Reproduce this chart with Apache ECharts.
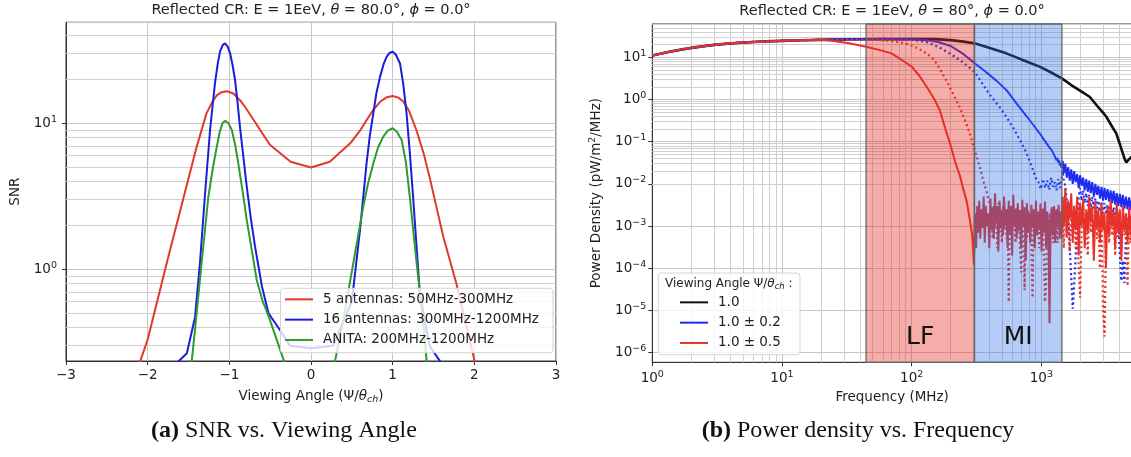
<!DOCTYPE html>
<html>
<head>
<meta charset="utf-8">
<script src="https://cdn.jsdelivr.net/npm/echarts@6.0.0/dist/echarts.min.js"></script>
<style>
html,body{margin:0;padding:0;background:#fff;overflow:hidden;}
#chart{width:1140px;height:457px;}
</style>
</head>
<body>
<div id="chart"></div>
<script>
// ================= Panel (a): SNR vs. viewing angle =================
const angleTicks = [-3, -2, -1, 0, 1, 2, 3];
const snrNames = ['5 antennas: 50MHz-300MHz', '16 antennas: 300MHz-1200MHz', 'ANITA: 200MHz-1200MHz'];
const snrRed = [[-2.25,0.13],[-2.0,0.33],[-1.75,1.2],[-1.56,3.1],[-1.4,6.9],[-1.28,11.7],[-1.2,14.3],[-1.15,15.6],[-1.1,16.3],[-1.03,16.6],[-0.95,16.0],[-0.87,14.4],[-0.8,12.8],[-0.7,10.5],[-0.6,8.6],[-0.5,7.1],[-0.25,5.45],[0.0,4.98],[0.23,5.46],[0.48,7.3],[0.6,8.9],[0.68,10.5],[0.76,12.3],[0.85,14.1],[0.93,15.1],[1.0,15.4],[1.07,15.0],[1.13,14.1],[1.2,12.2],[1.29,9.0],[1.38,6.2],[1.46,4.1],[1.62,1.67],[1.78,0.8],[2.0,0.24],[2.2,0.08]];
const snrBlue = [[-1.75,0.2],[-1.52,0.266],[-1.42,0.47],[-1.36,1.1],[-1.3,3.14],[-1.236,9.0],[-1.2,14],[-1.175,19],[-1.14,26],[-1.114,31],[-1.08,34.5],[-1.053,35.3],[-1.02,33.5],[-0.99,30.1],[-0.96,25],[-0.93,19.8],[-0.9,14],[-0.87,9.5],[-0.83,6.0],[-0.787,3.7],[-0.735,2.2],[-0.685,1.43],[-0.6,0.76],[-0.52,0.5],[-0.38,0.384],[-0.257,0.30],[0.0,0.288],[0.27,0.30],[0.5,0.6],[0.6,1.86],[0.68,5.3],[0.72,8.2],[0.763,11.7],[0.8,16],[0.845,20.8],[0.89,25.5],[0.927,28.6],[0.96,30.3],[1.0,30.9],[1.04,29.5],[1.09,25.7],[1.13,18.5],[1.17,11.7],[1.21,6.3],[1.25,3.14],[1.29,1.5],[1.33,0.72],[1.4,0.42],[1.457,0.295],[1.58,0.235],[1.75,0.19]];
const snrGreen = [[-1.55,0.15],[-1.46,0.235],[-1.40,0.5],[-1.34,1.1],[-1.257,3.14],[-1.2,5.0],[-1.16,6.6],[-1.12,8.6],[-1.085,10.0],[-1.05,10.4],[-1.01,10.0],[-0.97,9.0],[-0.93,7.2],[-0.89,5.3],[-0.84,3.5],[-0.787,2.18],[-0.72,1.3],[-0.665,0.845],[-0.59,0.6],[-0.52,0.48],[-0.33,0.235],[-0.2,0.145],[0.2,0.15],[0.294,0.235],[0.395,0.45],[0.518,1.1],[0.64,2.69],[0.7,3.9],[0.763,5.3],[0.82,6.8],[0.885,8.1],[0.94,8.9],[1.0,9.25],[1.05,8.8],[1.11,7.7],[1.16,5.5],[1.21,3.14],[1.25,1.9],[1.294,1.1],[1.375,0.43],[1.416,0.235],[1.47,0.13]];

// ================= Panel (b): power density vs. frequency =================
const psdNames = ['1.0', '1.0 ± 0.2', '1.0 ± 0.5'];
const lowFreq  = [1, 1.3, 1.7, 2.2, 3, 4, 5.5, 7.5, 10, 14, 20];
const lowPower = [11, 13.2, 15.4, 17.4, 19.7, 21.4, 22.8, 23.8, 24.5, 25.3, 25.9];

const blackFreq  = [28, 40, 60, 100, 150, 200, 250, 306, 400, 537, 700, 970, 1200, 1440, 1700, 2000, 2355, 2700, 3000, 3170, 3400, 3600, 3780, 3950, 4100, 4250, 4400, 4520, 4650, 4800, 5000];
const blackPower = [26.4, 26.8, 27, 27.2, 27, 25.5, 23.5, 21.4, 16.5, 12.4, 8.9, 6.0, 4.3, 3.17, 2.2, 1.6, 1.16, 0.7, 0.48, 0.39, 0.27, 0.2, 0.158, 0.105, 0.074, 0.053, 0.038, 0.032, 0.036, 0.04, 0.045];

const blueSolidFreq  = [28, 40, 60, 100, 130, 160, 200, 250, 306, 370, 450, 537, 650, 770, 870, 970, 1050, 1100, 1150, 1200, 1250, 1290, 1310, 1330, 1350, 1370, 1390, 1410, 1430];
const blueSolidPower = [26.4, 26.8, 27, 26.8, 25.5, 23, 18.5, 12, 7.2, 4.6, 2.8, 1.68, 0.78, 0.40, 0.245, 0.158, 0.11, 0.09, 0.074, 0.063, 0.05, 0.045, 0.036, 0.041, 0.032, 0.036, 0.027, 0.031, 0.024];

const blueDotFreq  = [28, 40, 60, 100, 130, 164, 200, 250, 306, 400, 470, 537, 620, 700, 770, 840, 915, 950, 990, 1030, 1070, 1110, 1150, 1190, 1230, 1270, 1310, 1350, 1390, 1430];
const blueDotPower = [26.4, 26.8, 26.8, 26, 23, 17, 12, 7.5, 4.5, 1.3, 0.7, 0.39, 0.19, 0.095, 0.053, 0.027, 0.0124, 0.011, 0.0075, 0.013, 0.008, 0.012, 0.0072, 0.014, 0.0085, 0.011, 0.007, 0.013, 0.008, 0.012];

const redSolidFreq  = [25, 33, 44.5, 55, 70, 85, 100, 115, 132, 150, 165, 182, 200, 220, 235, 250, 266, 280, 293, 302];
const redSolidPower = [24.4, 21.5, 17.8, 15.2, 12.4, 8.4, 6.0, 3.6, 1.9, 1.0, 0.55, 0.2, 0.08, 0.028, 0.016, 0.0075, 0.0038, 0.0015, 6e-4, 1.2e-4];

const redDotFreq  = [28, 40, 50, 70, 85, 100, 115, 132, 150, 170, 190, 210, 235, 260, 280, 300, 330, 355, 380, 400];
const redDotPower = [26.2, 26.4, 26, 24.5, 22, 19, 15.5, 12, 8.5, 4.5, 2.4, 1.3, 0.65, 0.3, 0.16, 0.076, 0.03, 0.0123, 0.0062, 0.0033];

// noisy tails: MI band (305-1440 MHz)
const midFreq = [308, 314, 320, 326, 332, 338, 345, 352, 359, 366, 373, 381, 389, 397, 405, 413, 421, 430, 439, 448, 457, 466, 476, 486, 496, 506, 516, 527, 538, 549, 560, 571, 583, 595, 607, 619, 632, 645, 658, 671, 685, 699, 713, 728, 743, 758, 773, 789, 805, 821, 838, 855, 872, 890, 908, 926, 945, 964, 984, 1004, 1024, 1045, 1066, 1088, 1110, 1133, 1156, 1179, 1203, 1228, 1253, 1278, 1304, 1331, 1358, 1386, 1414, 1435];
const redSolidMid = [2e-3, 3e-4, 3e-3, 7e-4, 4e-3, 5e-4, 2.5e-3, 9e-4, 5e-3, 4e-4,
  3e-3, 1e-3, 2e-3, 3e-4, 4.5e-3, 8e-4, 2.8e-3, 5e-4, 6e-3, 1.2e-3,
  3e-3, 2.5e-4, 4e-3, 9e-4, 2.2e-3, 6e-4, 5e-3, 1e-3, 2.5e-3, 3e-4,
  4e-3, 7e-4, 3e-3, 2e-4, 5.5e-3, 1.1e-3, 2.6e-3, 5e-4, 3.5e-3, 8e-4,
  2.4e-3, 3e-4, 4.2e-3, 1e-3, 2.8e-3, 1.5e-4, 3.5e-3, 7e-4, 2e-3, 4e-4,
  3.2e-3, 9e-4, 2.5e-3, 3e-4, 4e-3, 6e-4, 2.2e-3, 8e-4, 3.4e-3, 2.5e-4,
  2.6e-3, 7e-4, 3.8e-3, 3e-4, 2.2e-3, 9e-4, 5e-6, 1.5e-3, 2.8e-3, 6e-4,
  3e-3, 4e-4, 2.5e-3, 1e-3, 3.2e-3, 5e-4, 2.2e-3, 8e-4];
const redDotMid = [2e-3, 5e-4, 3e-3, 9e-4, 2.2e-3, 3e-4, 3.5e-3, 7e-4, 2.5e-3, 4e-4,
  3e-3, 8e-4, 2e-3, 5e-4, 2.5e-3, 1.6e-5, 1.5e-3, 6e-4, 3e-3, 9e-4,
  2e-3, 4e-4, 2.6e-3, 7e-4, 2e-3, 3e-4, 8e-5, 2.2e-3, 6e-4, 3e-5,
  1.8e-3, 5e-4, 2.4e-3, 7e-4, 2e-3, 4e-4, 2e-5, 1.5e-3, 5e-4, 2.5e-3,
  7e-4, 1.8e-3, 3e-4, 2.2e-3, 6e-4, 1.8e-3, 2e-4, 1.6e-5, 4e-5, 1.2e-3,
  3e-4, 2e-3, 6e-4, 1.5e-3, 4e-4, 2.2e-3, 6e-4, 1.5e-3, 4e-4, 2e-3,
  8e-4, 1.6e-3, 5e-4]; // from 413 MHz on

// noisy tails above the MI band
const highFreq = [1460, 1490, 1530, 1570, 1610, 1655, 1700, 1745, 1790, 1840, 1890, 1940, 1990, 2045, 2100, 2160, 2220, 2280, 2340, 2400, 2470, 2540, 2610, 2680, 2750, 2830, 2910, 2990, 3070, 3150, 3240, 3330, 3420, 3510, 3610, 3710, 3810, 3920, 4030, 4140, 4250, 4370, 4490, 4620, 4750, 4880, 5000];
const blueSolidHigh = [0.035, 0.018, 0.03, 0.014, 0.025, 0.012, 0.022, 0.01, 0.02, 0.011, 0.017, 0.008, 0.016, 0.009, 0.014, 0.007, 0.013, 0.0065, 0.012, 0.006, 0.011, 0.005, 0.01, 0.0055, 0.009, 0.0045, 0.0085, 0.004, 0.008, 0.0042, 0.0075, 0.0038, 0.007, 0.0035, 0.0068, 0.0032, 0.006, 0.003, 0.0058, 0.0028, 0.0055, 0.0026, 0.005, 0.0025, 0.0048, 0.0024, 0.0045];
const blueDotHigh = [0.02, 0.012, 0.009, 0.004, 0.002, 3e-4, 6e-5, 1.1e-5, 4e-5, 2e-4, 1e-3, 0.005, 0.008, 0.004, 0.007, 0.0035, 0.006, 0.003, 0.0055, 0.0028, 0.005, 0.0026, 0.0045, 0.0024, 0.004, 0.0022, 0.0038, 0.002, 0.0035, 0.0019, 0.0032, 0.0018, 0.003, 0.0016, 0.0028, 0.0015, 0.0026, 0.0014, 2e-4, 5e-5, 1.5e-4, 4.5e-5, 6e-4, 0.0015, 0.0012, 0.0018, 0.0014];
const redSolidHigh = [5e-3, 1e-3, 8e-3, 6e-4, 4e-3, 1.5e-3, 6e-3, 4e-4, 3e-3, 8e-4, 5e-3, 2e-4, 3.5e-3, 1e-3, 4.5e-3, 3e-4, 2.5e-3, 7e-4, 5e-3, 1.2e-3, 3e-3, 1.5e-4, 4e-3, 9e-4, 2.5e-3, 4e-4, 3.5e-3, 8e-4, 2e-3, 1e-4, 3e-3, 6e-4, 4e-3, 1e-3, 2.2e-3, 3e-4, 3.5e-3, 7e-4, 2.5e-3, 1.5e-4, 3e-3, 8e-4, 2e-3, 4e-4, 2.8e-3, 6e-4, 2e-3];
const redDotHigh = [2e-3, 3e-4, 4e-3, 5e-4, 2.5e-3, 2.5e-4, 3e-3, 6e-4, 2e-3, 3e-4, 1.5e-3, 1e-4, 2e-5, 8e-4, 3e-3, 5e-4, 2e-3, 2e-4, 3e-3, 7e-4, 2e-3, 3e-4, 2.5e-3, 5e-4, 1.8e-3, 1e-4, 2e-3, 1e-5, 2.4e-6, 5e-4, 2.5e-3, 4e-4, 2e-3, 6e-4, 1.5e-3, 2e-4, 2.5e-3, 5e-4, 1.8e-3, 3e-4, 2e-3, 6e-4, 1.2e-3, 3.8e-5, 1.5e-3, 4e-4, 1.8e-3];

const bandLF = [44.5, 305];
const bandMI = [305, 1440];

// ================= helpers =================
const zip = (xs, ys) => xs.map((x, i) => [x, ys[i]]);
const FONT = 'DejaVu Sans';
const TXT = '#222';

const blackData = zip(lowFreq, lowPower).concat(zip(blackFreq, blackPower));
const blueSolidData = zip(lowFreq, lowPower).concat(zip(blueSolidFreq, blueSolidPower), zip(highFreq, blueSolidHigh));
const blueDotData = zip(lowFreq, lowPower).concat(zip(blueDotFreq, blueDotPower), zip(highFreq, blueDotHigh));
const redSolidData = zip(lowFreq, lowPower).concat(zip(redSolidFreq, redSolidPower), zip(midFreq, redSolidMid), zip(highFreq, redSolidHigh));
const redDotData = zip(lowFreq, lowPower).concat(zip(redDotFreq, redDotPower), zip(midFreq.slice(15), redDotMid), zip(highFreq, redDotHigh));

function minorValues(lo, hi) {
  const out = [];
  for (let e = Math.floor(Math.log10(lo)); e <= Math.ceil(Math.log10(hi)); e++) {
    for (let d = 2; d <= 9; d++) {
      const v = d * Math.pow(10, e);
      if (v > lo * 1.001 && v < hi * 0.999) out.push(v);
    }
  }
  return out;
}
function powLabel(v) {
  const e = Math.log10(v);
  if (Math.abs(e - Math.round(e)) > 1e-6) return '';
  const n = Math.round(e);
  return '10{sup|' + (n < 0 ? '\u2212' + (-n) : n) + '}';
}
const richLabel = {
  sup: {fontSize: 9.5, fontFamily: FONT, color: TXT, padding: [0, 0, 8, 0]}
};
const richName = {
  i: {fontStyle: 'italic', fontSize: 13.5, fontFamily: FONT, color: TXT},
  sub: {fontStyle: 'italic', fontSize: 9.5, fontFamily: FONT, color: TXT, padding: [7, 0, 0, 0]},
  sup: {fontSize: 9.5, fontFamily: FONT, color: TXT, padding: [0, 0, 8, 0]}
};

const Y1 = [0.2355, 49.2];
const X2 = [1, 5000];
const Y2 = [5.9e-7, 61.5];
const gridLine = {color: '#c6c6c6', width: 1};

function axisCommon() {
  return {
    axisLine: {show: true, onZero: false, lineStyle: {color: '#333', width: 1}},
    axisTick: {show: true, length: 4, lineStyle: {color: '#333'}},
    splitLine: {show: true, lineStyle: gridLine},
    axisLabel: {color: TXT, fontSize: 13.5, fontFamily: FONT, rich: richLabel},
    nameTextStyle: {color: TXT, fontSize: 13.5, fontFamily: FONT, rich: richName}
  };
}
function minorSeries(xi, yi, xs, ys) {
  const d = xs.map(v => ({xAxis: v})).concat(ys.map(v => ({yAxis: v})));
  return {type: 'line', xAxisIndex: xi, yAxisIndex: yi, data: [], silent: true,
    markLine: {silent: true, z: 1, animation: false, symbol: ['none', 'none'], label: {show: false},
      lineStyle: {color: '#cfcfcf', width: 1, type: 'solid'}, emphasis: {disabled: true}, data: d}};
}
function lineSeries(name, data, color, width, xi, dotted, z) {
  return {name, type: 'line', xAxisIndex: xi, yAxisIndex: xi, data, symbol: 'none', showSymbol: false,
    color, itemStyle: {color},
    lineStyle: {color, width, type: dotted ? [2, 3] : 'solid'}, z: z || 3, silent: true};
}

const x0 = Object.assign(axisCommon(), {
  type: 'value', gridIndex: 0, min: -3, max: 3, interval: 1,
  name: 'Viewing Angle (\u03A8/{i|\u03B8}{sub|ch})', nameLocation: 'middle', nameGap: 27
});
x0.axisLabel = Object.assign({}, x0.axisLabel, {margin: 7, formatter: v => (v < 0 ? '\u2212' + (-v) : '' + v)});
const y0 = Object.assign(axisCommon(), {
  type: 'log', logBase: 10, gridIndex: 0, min: Y1[0], max: Y1[1],
  name: 'SNR', nameLocation: 'middle', nameGap: 44
});
y0.axisLabel = Object.assign({}, y0.axisLabel, {margin: 9, formatter: powLabel, showMinLabel: false, showMaxLabel: false});

const x1 = Object.assign(axisCommon(), {
  type: 'log', logBase: 10, gridIndex: 1, min: X2[0], max: X2[1],
  name: 'Frequency (MHz)', nameLocation: 'middle', nameGap: 27
});
x1.axisLabel = Object.assign({}, x1.axisLabel, {margin: 7, formatter: powLabel, showMaxLabel: false});
const y1 = Object.assign(axisCommon(), {
  type: 'log', logBase: 10, gridIndex: 1, min: Y2[0], max: Y2[1],
  name: 'Power Density (pW/m{sup|2}/MHz)', nameLocation: 'middle', nameGap: 47
});
y1.axisLabel = Object.assign({}, y1.axisLabel, {margin: 6, formatter: powLabel, showMinLabel: false, showMaxLabel: false});

const legendText = {fontSize: 13.5, fontFamily: FONT, color: TXT, lineHeight: 20.3, padding: [0, 0, 0, 5]};

const option = {
  animation: false,
  textStyle: {fontFamily: FONT},
  grid: [
    {left: 66, top: 22.3, width: 490, height: 338.7, show: true, borderColor: '#333', borderWidth: 1, backgroundColor: 'transparent', containLabel: false, outerBoundsMode: 'none'},
    {left: 652.3, top: 24, width: 479.7, height: 338.3, show: true, borderColor: '#333', borderWidth: 1, backgroundColor: 'transparent', containLabel: false, outerBoundsMode: 'none'}
  ],
  xAxis: [x0, x1],
  yAxis: [y0, y1],
  legend: [
    {data: snrNames, orient: 'vertical', left: 285, top: 289.2, padding: 0, itemGap: 0, itemWidth: 28, itemHeight: 2,
      icon: 'rect', selectedMode: false, z: 60, textStyle: legendText, itemStyle: {borderWidth: 0}},
    {data: psdNames, orient: 'vertical', left: 680, top: 292.2, padding: 0, itemGap: 0, itemWidth: 28, itemHeight: 2,
      icon: 'rect', selectedMode: false, z: 60, textStyle: legendText, itemStyle: {borderWidth: 0}}
  ],
  series: [
    minorSeries(0, 0, [], minorValues(Y1[0], Y1[1])),
    minorSeries(1, 1, minorValues(X2[0], X2[1]), minorValues(Y2[0], Y2[1])),
    lineSeries(snrNames[0], snrRed, '#df3a2c', 2, 0, false, 3),
    lineSeries(snrNames[1], snrBlue, '#1c1cdc', 2, 0, false, 3),
    lineSeries(snrNames[2], snrGreen, '#2f9a2f', 2, 0, false, 3),
    lineSeries(psdNames[0], blackData, '#111111', 2.6, 1, false, 3),
    lineSeries(psdNames[1], blueSolidData, '#1f2cf2', 2, 1, false, 3),
    lineSeries(psdNames[1], blueDotData, '#1f2cf2', 2.2, 1, true, 3),
    lineSeries(psdNames[2], redSolidData, '#e8322a', 2, 1, false, 3),
    lineSeries(psdNames[2], redDotData, '#e8322a', 2.2, 1, true, 3),
    {type: 'line', xAxisIndex: 1, yAxisIndex: 1, data: [], silent: true, z: 10,
      markArea: {silent: true, z: 10, animation: false,
        label: {show: true, position: 'insideBottom', distance: 13, fontSize: 25, fontFamily: FONT, color: '#111'},
        data: [
          [{name: 'LF', xAxis: bandLF[0], itemStyle: {color: 'rgba(230,40,30,0.38)', borderColor: '#666', borderWidth: 1.3}}, {xAxis: bandLF[1]}],
          [{name: 'MI', xAxis: bandMI[0], itemStyle: {color: 'rgba(40,110,230,0.35)', borderColor: '#666', borderWidth: 1.3}}, {xAxis: bandMI[1]}]
        ]}}
  ],
  graphic: {elements: [
    {type: 'rect', z: 50, silent: true, shape: {x: 280.5, y: 288.3, width: 272.5, height: 64.4, r: 3},
      style: {fill: 'rgba(255,255,255,0.8)', stroke: '#d4d4d4', lineWidth: 1}},
    {type: 'rect', z: 50, silent: true, shape: {x: 658.3, y: 273, width: 141.7, height: 81.7, r: 3},
      style: {fill: 'rgba(255,255,255,0.8)', stroke: '#d4d4d4', lineWidth: 1}},
    {type: 'text', z: 61, silent: true, x: 665, y: 283.5,
      style: {text: 'Viewing Angle \u03A8/{i|\u03B8}{sub|ch} :', fontSize: 12, fontFamily: FONT, fill: TXT, verticalAlign: 'middle',
        rich: {i: {fontStyle: 'italic', fontSize: 12, fontFamily: FONT, fill: TXT}, sub: {fontStyle: 'italic', fontSize: 8.5, fontFamily: FONT, fill: TXT, padding: [6, 0, 0, 0]}}}},
    {type: 'text', z: 61, silent: true, x: 311, y: 10.5,
      style: {text: 'Reflected CR: E = 1EeV, {i|\u03B8} = 80.0\u00B0, {i|\u03D5} = 0.0\u00B0', fontSize: 14.5, fontFamily: FONT, fill: TXT, align: 'center', verticalAlign: 'middle',
        rich: {i: {fontStyle: 'italic', fontSize: 14.5, fontFamily: FONT, fill: TXT}}}},
    {type: 'text', z: 61, silent: true, x: 892, y: 11.5,
      style: {text: 'Reflected CR: E = 1EeV, {i|\u03B8} = 80\u00B0, {i|\u03D5} = 0.0\u00B0', fontSize: 14.5, fontFamily: FONT, fill: TXT, align: 'center', verticalAlign: 'middle',
        rich: {i: {fontStyle: 'italic', fontSize: 14.5, fontFamily: FONT, fill: TXT}}}},
    {type: 'text', z: 61, silent: true, x: 284, y: 431,
      style: {text: '{b|(a)} SNR vs. Viewing Angle', fontSize: 24, fontFamily: 'Liberation Serif', fill: '#111', align: 'center', verticalAlign: 'middle',
        rich: {b: {fontWeight: 'bold', fontSize: 24, fontFamily: 'Liberation Serif', fill: '#111'}}}},
    {type: 'text', z: 61, silent: true, x: 858, y: 431,
      style: {text: '{b|(b)} Power density vs. Frequency', fontSize: 24, fontFamily: 'Liberation Serif', fill: '#111', align: 'center', verticalAlign: 'middle',
        rich: {b: {fontWeight: 'bold', fontSize: 24, fontFamily: 'Liberation Serif', fill: '#111'}}}}
  ]}
};

const chart = echarts.init(document.getElementById('chart'), null, {renderer: 'canvas'});
chart.setOption(option);
</script>
</body>
</html>
